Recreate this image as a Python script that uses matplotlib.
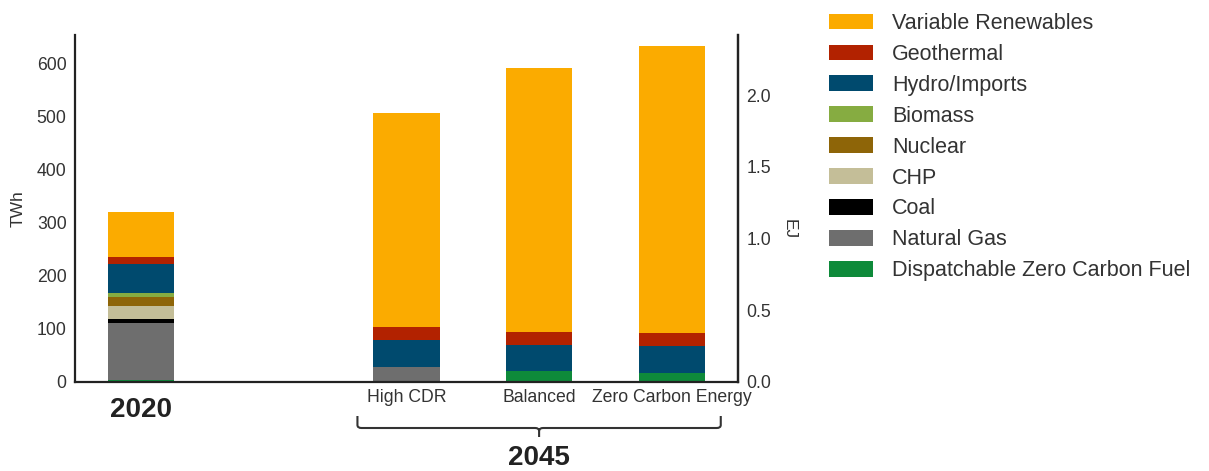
import matplotlib
matplotlib.use("Agg")
import matplotlib.pyplot as plt
from matplotlib.patches import Patch
from matplotlib.path import Path
from matplotlib.patches import PathPatch
import matplotlib.transforms as mtransforms
import numpy as np

plt.rcParams['font.family'] = ['Liberation Sans', 'DejaVu Sans']

categories = ["2020", "High CDR", "Balanced", "Zero Carbon Energy"]
positions = [0, 2, 3, 4]

series_names = ["Dispatchable Zero Carbon Fuel", "Natural Gas", "Coal", "CHP",
                "Nuclear", "Biomass", "Hydro/Imports", "Geothermal",
                "Variable Renewables"]
colors = ["#0E8A3A", "#6E6E6E", "#000000", "#C4BE98",
          "#8E6508", "#86AC41", "#004A6E", "#B22200", "#FBAB00"]

dispatchable = [3, 0, 19.5, 16]
natural_gas = [107, 28, 0, 0]
coal = [7.5, 0, 0, 0]
chp = [24.5, 0, 0, 0]
nuclear = [17.5, 0, 0, 0]
biomass = [7.5, 0, 0, 0]
hydro = [55.5, 50.5, 49.5, 51]
geothermal = [11.5, 25, 24.5, 25]
variable_renewables = [86, 402, 497, 541]

series = [dispatchable, natural_gas, coal, chp, nuclear, biomass, hydro,
          geothermal, variable_renewables]

W, H = 1209, 471
fig = plt.figure(figsize=(W / 100, H / 100), dpi=100)
ax = fig.add_axes([75 / W, 1 - 381.7 / H, (738 - 75) / W, (381.7 - 35) / H])

txt = "#333333"
bottom = np.zeros(len(positions))
for vals, c in zip(series, colors):
    v = np.array(vals, dtype=float)
    ax.bar(positions, v, width=0.5, bottom=bottom, color=c, edgecolor="none", zorder=2)
    bottom += v

ax.set_xlim(-0.5, 4.5)
ax.set_ylim(0, 653)
ax.set_yticks([0, 100, 200, 300, 400, 500, 600])
ax.set_ylabel("TWh", fontsize=12.5, color=txt, labelpad=8)
ax.set_xticks(positions[1:])
ax.set_xticklabels(categories[1:], fontsize=12.7, color=txt)
ax.tick_params(axis="both", length=0, labelsize=12.7, labelcolor=txt)
ax.tick_params(axis="x", pad=5)
ax.tick_params(axis="y", pad=6)
for s in ["top"]:
    ax.spines[s].set_visible(False)
for s in ["left", "bottom", "right"]:
    ax.spines[s].set_color("#222222")
    ax.spines[s].set_linewidth(1.6)

ax2 = ax.twinx()
ax2.set_ylim(0, 2.42)
ax2.set_yticks([0.0, 0.5, 1.0, 1.5, 2.0])
ax2.set_yticklabels(["0.0", "0.5", "1.0", "1.5", "2.0"])
ax2.tick_params(axis="y", length=0, labelsize=12.7, labelcolor=txt, pad=6)
ax2.set_ylabel("EJ", fontsize=12.5, color=txt, rotation=270, va="center")
ax2.yaxis.set_label_coords((789 - 75) / 663, (381.7 - 229.5) / 346.7)
for s in ["top", "left", "bottom"]:
    ax2.spines[s].set_visible(False)
ax2.spines["right"].set_color("#222222")
ax2.spines["right"].set_linewidth(1.6)

# Year labels
trans = mtransforms.blended_transform_factory(ax.transData, fig.transFigure)
ax.text(positions[0], 1 - 410 / H, "2020", transform=trans, ha="center", va="center",
        fontsize=20, fontweight="bold", color="#222222")
ax.text(positions[2], 1 - 458 / H, "2045", transform=trans, ha="center", va="center",
        fontsize=20, fontweight="bold", color="#222222")

# Brace
xl, xr, xm = positions[1] - 0.37, positions[3] + 0.37, positions[2]
ytop, ymid, ybot = 1 - 416 / H, 1 - 428 / H, 1 - 437 / H
r = 0.03
rv = 3 / H
verts = [(xl, ytop), (xl, ymid + rv), (xl, ymid), (xl + r, ymid),
         (xm - r, ymid), (xm, ymid), (xm, ymid - rv), (xm, ybot),
         (xm, ymid - rv), (xm, ymid), (xm + r, ymid),
         (xr - r, ymid), (xr, ymid), (xr, ymid + rv), (xr, ytop)]
codes = [Path.MOVETO, Path.LINETO, Path.CURVE3, Path.CURVE3,
         Path.LINETO, Path.CURVE3, Path.CURVE3, Path.LINETO,
         Path.MOVETO, Path.CURVE3, Path.CURVE3,
         Path.LINETO, Path.CURVE3, Path.CURVE3, Path.LINETO]
brace = PathPatch(Path(verts, codes), transform=trans, fill=False,
                  edgecolor="#333333", linewidth=1.5, clip_on=False)
fig.add_artist(brace)

handles = [Patch(facecolor=c, edgecolor="none", label=n)
           for n, c in zip(series_names[::-1], colors[::-1])]
fig.legend(handles=handles, loc="upper left", bbox_to_anchor=(829 / W, 1 - 13 / H),
           frameon=False, fontsize=15.5, handlelength=2.05, handleheight=0.74,
           handletextpad=0.88, labelspacing=0.46, borderpad=0, borderaxespad=0,
           labelcolor=txt)

fig.savefig("out.png", dpi=100)
